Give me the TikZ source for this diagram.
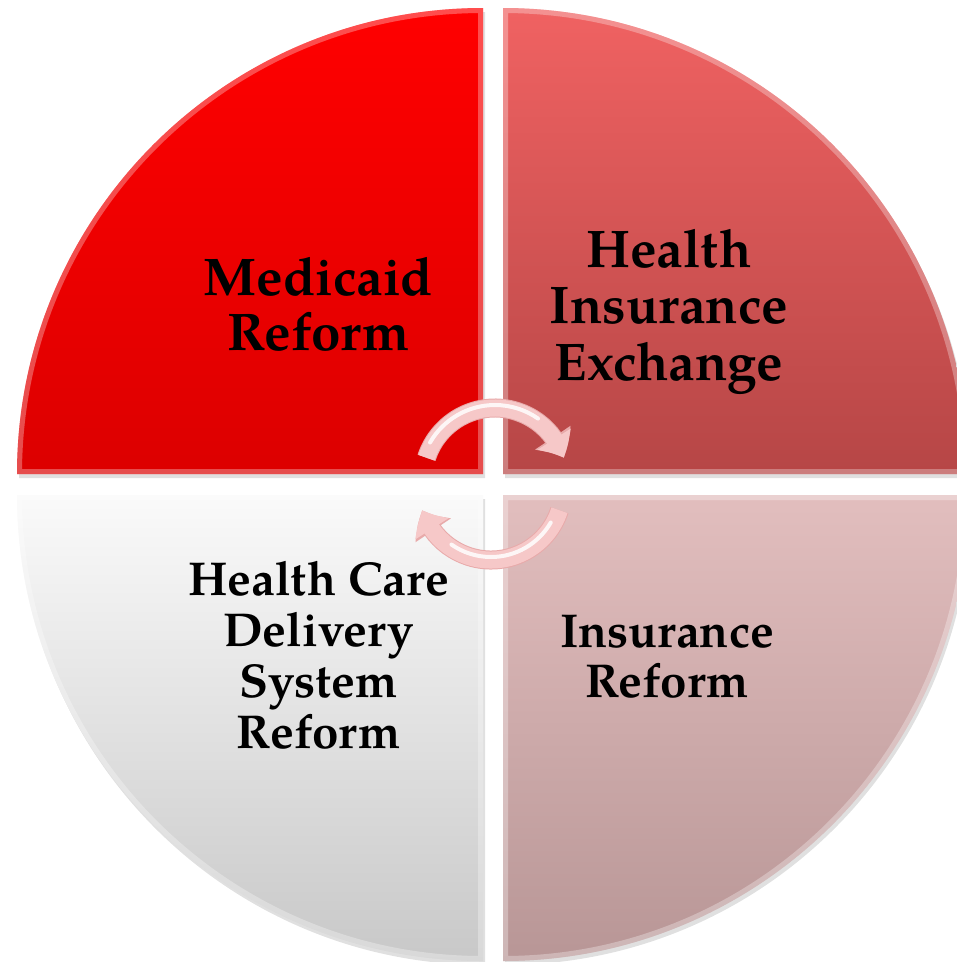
\documentclass[tikz,border=0pt]{standalone}
\usepackage{fontspec}
\setmainfont{TeX Gyre Pagella}
\usetikzlibrary{arrows.meta,bending}
\definecolor{tlTop}{RGB}{255,0,0}
\definecolor{tlBot}{RGB}{220,0,0}
\definecolor{trTop}{RGB}{240,98,98}
\definecolor{trBot}{RGB}{182,70,70}
\definecolor{brTop}{RGB}{226,190,190}
\definecolor{brBot}{RGB}{184,150,150}
\definecolor{blTop}{RGB}{250,250,250}
\definecolor{blBot}{RGB}{200,200,200}
\definecolor{arrowPink}{RGB}{246,200,200}
\definecolor{arrowEdge}{RGB}{232,170,170}
\tikzset{
  lbl/.style={anchor=base, inner sep=0pt, text=black},
  bevel/.style={draw=white, opacity=0.3, line width=10pt},
  shadowfill/.style={fill=black, opacity=0.12},
  cyc/.style={line width=17pt, draw=arrowPink, -{Triangle[bend, width=38pt, length=21pt]}},
  cycedge/.style={line width=19pt, draw=arrowEdge, -{Triangle[bend, width=41pt, length=23pt]}},
  shine/.style={draw=white, line width=4pt, opacity=0.85, line cap=round}
}
\begin{document}
\begin{tikzpicture}[x=1pt,y=-1pt]
\useasboundingbox (0,0) rectangle (957,962);
\clip (0,0) rectangle (957,962);
\def\pTL{(483,474) -- (17,474) arc[start angle=180,end angle=270,radius=466] -- cycle}
\def\pTR{(503,474) -- (503,8) arc[start angle=270,end angle=360,radius=466] -- cycle}
\def\pBR{(503,495) -- (969,495) arc[start angle=0,end angle=90,radius=466] -- cycle}
\def\pBL{(483,495) -- (483,961) arc[start angle=90,end angle=180,radius=466] -- cycle}
% shadows
\begin{scope}[shift={(2,4)}]
\fill[shadowfill] \pTL;
\fill[shadowfill] \pTR;
\fill[shadowfill] \pBR;
\fill[shadowfill] \pBL;
\end{scope}
% quadrants
\shade[top color=tlTop, bottom color=tlBot] \pTL;
\shade[top color=trTop, bottom color=trBot] \pTR;
\shade[top color=brTop, bottom color=brBot] \pBR;
\shade[top color=blTop, bottom color=blBot] \pBL;
\begin{scope}\clip \pTL; \draw[bevel] \pTL; \end{scope}
\begin{scope}\clip \pTR; \draw[bevel] \pTR; \end{scope}
\begin{scope}\clip \pBR; \draw[bevel] \pBR; \end{scope}
\begin{scope}\clip \pBL; \draw[bevel] \pBL; \end{scope}
% circular arrows
\coordinate (ctop) at (495,480);
\coordinate (cbot) at (491,488);
\draw[cycedge] ([shift={(-162:72)}]ctop) arc[start angle=-162,end angle=-18,radius=72];
\draw[cyc] ([shift={(-162:72)}]ctop) arc[start angle=-162,end angle=-18,radius=72];
\draw[shine] ([shift={(-150:75)}]ctop) arc[start angle=-150,end angle=-55,radius=75];
\draw[cycedge] ([shift={(18:72)}]cbot) arc[start angle=18,end angle=162,radius=72];
\draw[cyc] ([shift={(18:72)}]cbot) arc[start angle=18,end angle=162,radius=72];
\draw[shine] ([shift={(30:69)}]cbot) arc[start angle=30,end angle=125,radius=69];
% labels
\node[lbl, font=\fontsize{53}{55}\selectfont\bfseries] (medicaid) at (318.5,295)
  {\begin{tabular}[t]{@{}c@{}}Medicaid\\Reform\end{tabular}};
\node[lbl, font=\fontsize{53}{56.5}\selectfont\bfseries] (exchange) at (669,267)
  {\begin{tabular}[t]{@{}c@{}}Health\\Insurance\\Exchange\end{tabular}};
\node[lbl, font=\fontsize{47.5}{51}\selectfont\bfseries] (delivery) at (318.5,595)
  {\begin{tabular}[t]{@{}c@{}}Health Care\\Delivery\\System\\Reform\end{tabular}};
\node[lbl, font=\fontsize{47.5}{50}\selectfont\bfseries] (insurance) at (667,647)
  {\begin{tabular}[t]{@{}c@{}}Insurance\\Reform\end{tabular}};
\end{tikzpicture}
\end{document}
